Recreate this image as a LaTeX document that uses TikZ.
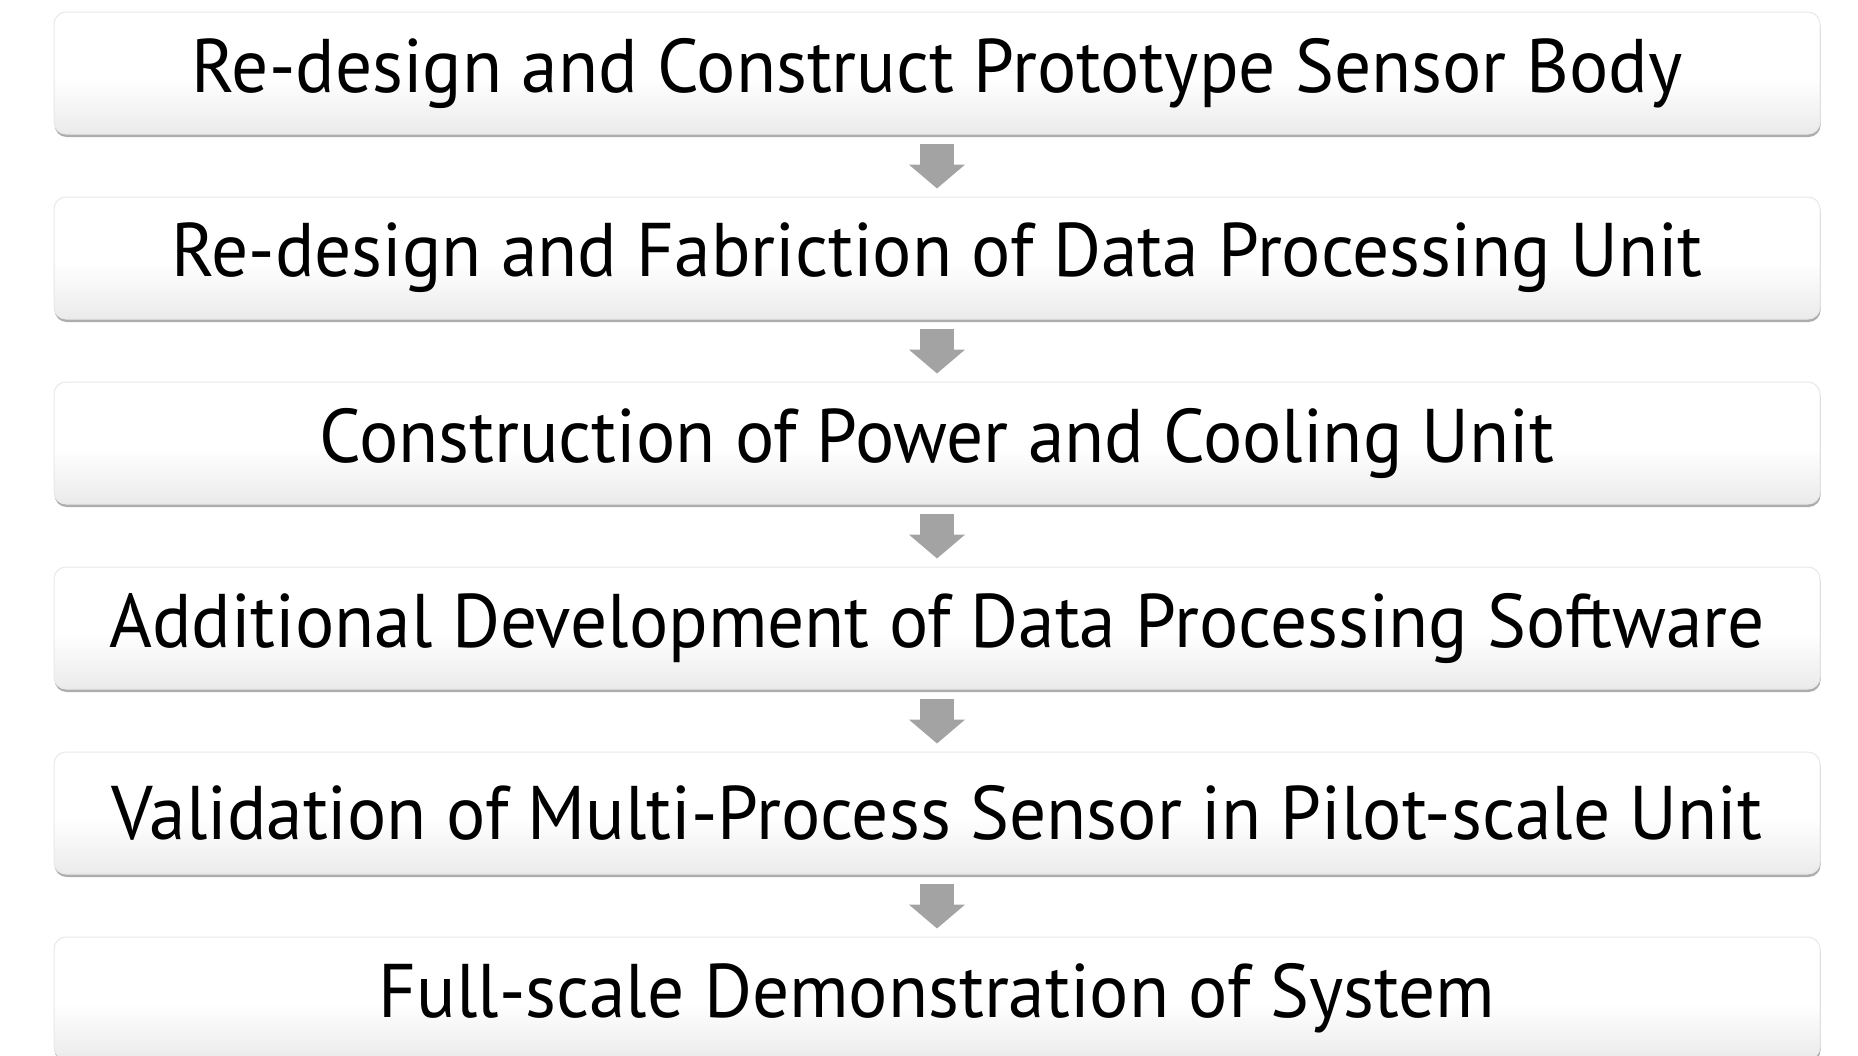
\documentclass[tikz,border=0pt]{standalone}
\usepackage{fontspec}
\setmainfont{PT Sans}[FakeStretch=0.965]
\usetikzlibrary{positioning, arrows.meta, shadows}
\pgfdeclareverticalshading{stageshade}{100bp}{color(0bp)=(gray!16); color(25bp)=(gray!16); color(48bp)=(white); color(100bp)=(white)}
\tikzset{
  node distance=31pt,
  stage/.style={rectangle, rounded corners=6pt, draw=gray!18, line width=0.5pt,
    shading=stageshade, minimum width=883pt, minimum height=61pt,
    font=\fontsize{38}{40}\selectfont,
    drop shadow={shadow xshift=0.3pt, shadow yshift=-1.5pt, fill=gray!75, opacity=0.85}},
  flow/.style={-{Triangle[width=27.5pt, length=12pt]}, line width=17pt, draw=gray!72,
    shorten <=4.5pt, shorten >=4pt},
}
\begin{document}
\begin{tikzpicture}
        \useasboundingbox (0,0) rectangle (929pt,-527.5pt);

        % stages
        \node[stage] (body) at (468.5pt,-36.5pt) {Re-design and Construct Prototype Sensor Body};
        \node[stage, below=of body] (unit) {Re-design and Fabriction of Data Processing Unit};
        \node[stage, below=of unit] (power) {Construction of Power and Cooling Unit};
        \node[stage, below=of power] (soft) {Additional Development of Data Processing Software};
        \node[stage, below=of soft] (pilot) {Validation of Multi-Process Sensor in Pilot-scale Unit};
        \node[stage, below=of pilot] (full) {Full-scale Demonstration of System};

        % arrows
        \draw[flow] (body) -- (unit);
        \draw[flow] (unit) -- (power);
        \draw[flow] (power) -- (soft);
        \draw[flow] (soft) -- (pilot);
        \draw[flow] (pilot) -- (full);

\end{tikzpicture}
\end{document}
